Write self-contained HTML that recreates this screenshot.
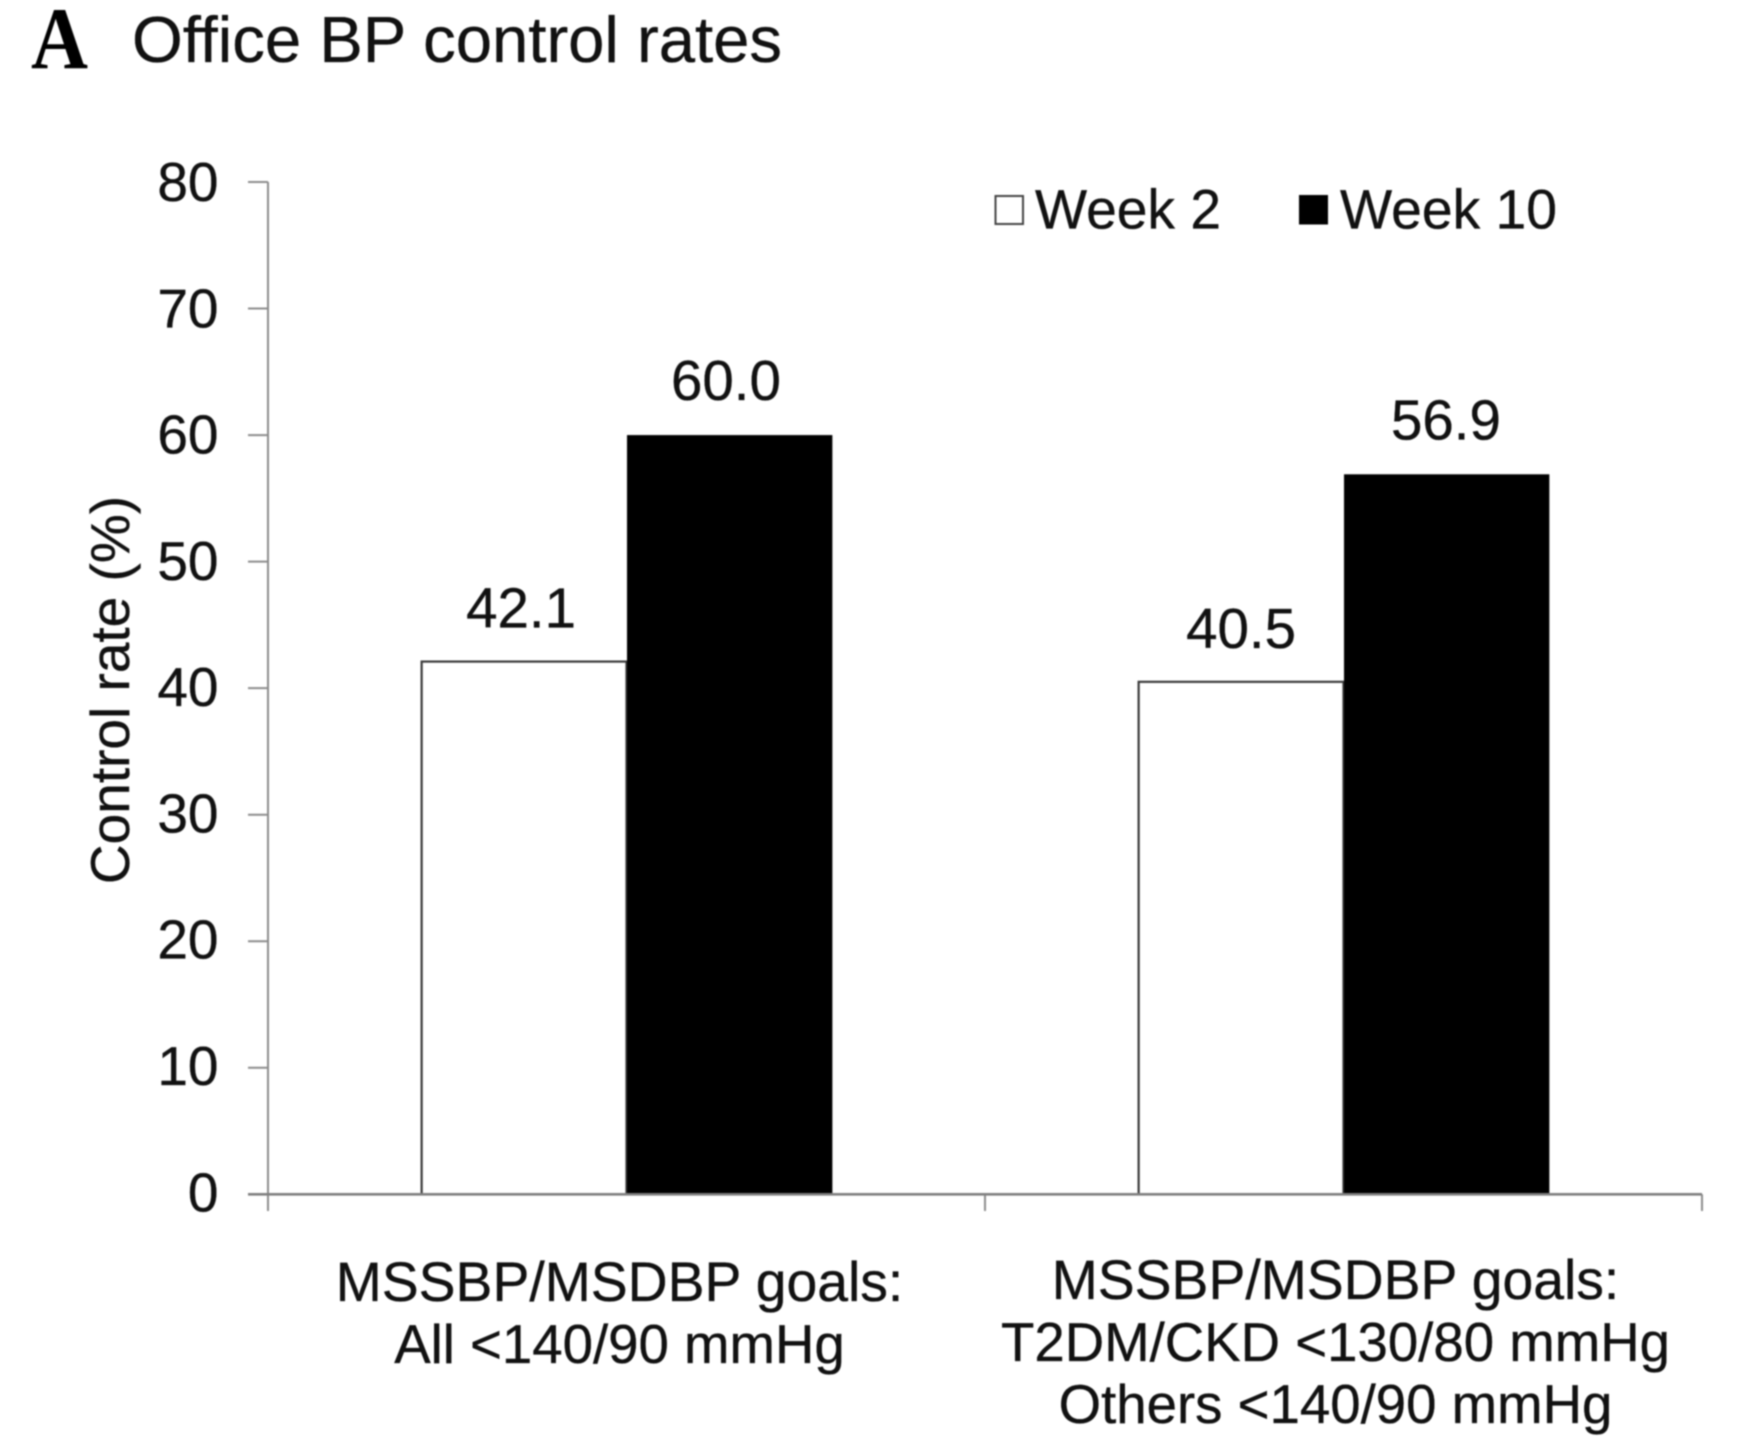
<!DOCTYPE html>
<html lang="en">
<head>
<meta charset="utf-8">
<title>Office BP control rates</title>
<style>
html,body{margin:0;padding:0;background:#fff;}
body{width:1752px;height:1439px;overflow:hidden;}
svg{display:block;filter:blur(0.7px);}
text{font-family:"Liberation Sans",Arial,sans-serif;fill:#111;stroke:#111;stroke-width:0.35px;}
</style>
</head>
<body>
<svg id="chart" xmlns="http://www.w3.org/2000/svg" width="1752" height="1439" viewBox="0 0 1752 1439">
  <rect x="0" y="0" width="1752" height="1439" fill="#fff"/>
  <text x="31" y="68" textLength="57" lengthAdjust="spacingAndGlyphs" style="font-family:'Liberation Serif',serif;font-weight:700;font-size:88px;fill:#000;stroke:none">A</text>
  <text x="132" y="62" font-size="65" textLength="650" lengthAdjust="spacingAndGlyphs">Office BP control rates</text>
  <text transform="translate(129 690) rotate(-90)" text-anchor="middle" font-size="55">Control rate (%)</text>
  <g>
    <rect x="995.5" y="196" width="27.5" height="28" fill="#fff" stroke="#444" stroke-width="2"/>
    <text x="1035" y="228.5" font-size="56" textLength="186" lengthAdjust="spacingAndGlyphs">Week 2</text>
    <rect x="1299" y="195" width="29" height="29.5" fill="#000"/>
    <text x="1340" y="228.5" font-size="56" textLength="217" lengthAdjust="spacingAndGlyphs">Week 10</text>
  </g>
  <g id="axes"></g>
  <g id="bars"></g>
  <g id="labels"></g>
</svg>
<script>
const categoryLines = [
  ["MSSBP/MSDBP goals:", "All <140/90 mmHg"],
  ["MSSBP/MSDBP goals:", "T2DM/CKD <130/80 mmHg", "Others <140/90 mmHg"]
];
const week2Values = [42.1, 40.5];
const week10Values = [60.0, 56.9];
const yTicks = [0, 10, 20, 30, 40, 50, 60, 70, 80];

const NS = "http://www.w3.org/2000/svg";
const plotLeft = 268, plotRight = 1702, plotBottom = 1194.3, plotTop = 182;
const yMax = 80;
const catWidth = (plotRight - plotLeft) / categoryLines.length;
const barWidth = catWidth / 3.5;

function yScale(v) { return plotBottom - (v / yMax) * (plotBottom - plotTop); }
function catCenter(i) { return plotLeft + catWidth * (i + 0.5); }

function make(tag, attrs, parent, text) {
  const el = document.createElementNS(NS, tag);
  for (const k in attrs) el.setAttribute(k, attrs[k]);
  if (text !== undefined) el.textContent = text;
  parent.appendChild(el);
  return el;
}

const axes = document.getElementById("axes");
const bars = document.getElementById("bars");
const labels = document.getElementById("labels");
const axisStyle = { stroke: "#8c8c8c", "stroke-width": 2, fill: "none" };

yTicks.forEach(function (t) {
  const y = yScale(t);
  const tick = make("line", Object.assign({ x1: 248, x2: plotLeft, y1: y, y2: y }, axisStyle), axes);
  
  
  const lab = make("text", { x: 218.5, y: y + 17 + 2 * t / yMax, "text-anchor": "end", "font-size": 55 }, labels, String(t));
  
  
});

categoryLines.forEach(function (lines, i) {
  const cx = catCenter(i);
  const left = cx - barWidth;
  const labelShift = i === 0 ? -3 : 0;

  const h2 = plotBottom - yScale(week2Values[i]);
  const bar2 = make("rect", { x: left, y: yScale(week2Values[i]), width: barWidth, height: h2, fill: "#fff", stroke: "#3a3a3a", "stroke-width": 2.2 }, bars);
  
  

  const h10 = plotBottom - yScale(week10Values[i]);
  const bar10 = make("rect", { x: cx + 0.5, y: yScale(week10Values[i]), width: barWidth + 0.5, height: h10, fill: "#000" }, bars);
  
  

  const v2 = make("text", { x: cx - barWidth / 2 + labelShift, y: yScale(week2Values[i]) - 34, "text-anchor": "middle", "font-size": 56.5 }, labels, week2Values[i].toFixed(1));
  
  

  const v10 = make("text", { x: cx + barWidth / 2 + labelShift, y: yScale(week10Values[i]) - 35, "text-anchor": "middle", "font-size": 56.5 }, labels, week10Values[i].toFixed(1));
  
  

  const baseY = lines.length === 3 ? 1299 : 1301;
  lines.forEach(function (line, j) {
    const size = j === 0 ? 55.3 : 54.6;
    const tl = make("text", { x: cx - 7 - i, y: baseY + j * 62, "text-anchor": "middle", "font-size": size }, labels, line);
    
    
  });
});

for (let i = 0; i <= categoryLines.length; i++) {
  const x = plotLeft + catWidth * i;
  const xt = make("line", Object.assign({ x1: x, x2: x, y1: plotBottom, y2: 1211 }, axisStyle), axes);
  
  
}

const yAxis = make("line", Object.assign({ x1: plotLeft, x2: plotLeft, y1: plotTop, y2: plotBottom }, axisStyle), axes);



const xAxis = make("line", { x1: 248, x2: plotRight, y1: plotBottom, y2: plotBottom, stroke: "#7f7f7f", "stroke-width": 2.6 }, labels);


</script>
</body>
</html>
